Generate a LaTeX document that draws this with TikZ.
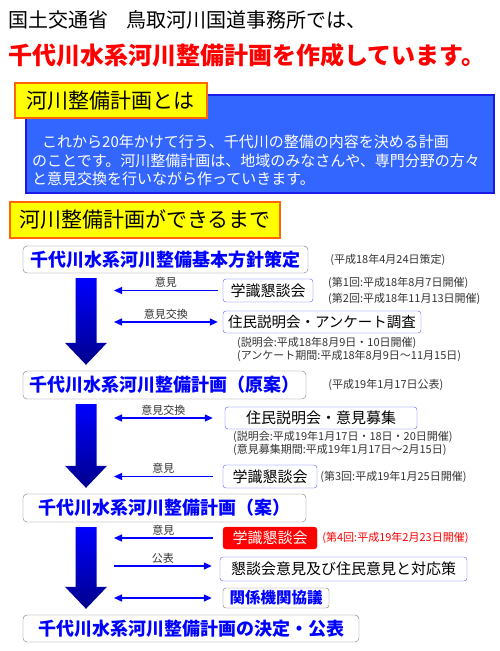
\documentclass[tikz,border=0pt]{standalone}
\usepackage{fontspec}
\usetikzlibrary{positioning,calc,arrows.meta}
\newfontfamily\jp{Noto Sans CJK JP}
\definecolor{flowblue}{HTML}{0000FF}
\definecolor{navy}{HTML}{00008C}
\definecolor{boxblue}{HTML}{3366FF}
\definecolor{boxedge}{HTML}{1A1AE6}
\definecolor{headfill}{HTML}{FFFF00}
\definecolor{headedge}{HTML}{FF6600}
\definecolor{sideedge}{HTML}{5555FF}
\definecolor{frame}{HTML}{777777}
\definecolor{note}{HTML}{333333}
\definecolor{alert}{HTML}{FF0000}

\tikzset{
  mainbox/.style={draw=frame, rounded corners=4pt, fill=white, text=flowblue, inner sep=0pt,
    font=\jp\bfseries\fontsize{18}{18}\selectfont},
  sidebox/.style={draw=sideedge, rounded corners=3pt, fill=white, inner sep=0pt,
    font=\jp\fontsize{15}{15}\selectfont},
  headbox/.style={draw=headedge, line width=2pt, fill=headfill, inner sep=0pt,
    font=\jp\fontsize{21}{21}\selectfont},
  notetext/.style={anchor=west, inner sep=0pt, text=note, font=\jp\fontsize{11}{11}\selectfont},
  sidearrow/.style={flowblue, line width=1.3pt, -{Triangle[length=8pt,width=7pt]}},
  bothways/.style={flowblue, line width=1.3pt, {Triangle[length=8pt,width=7pt]}-{Triangle[length=8pt,width=7pt]}},
  arrowlabel/.style={midway, above, inner sep=2pt, text=note, font=\jp\fontsize{11}{11}\selectfont},
}

% thick shaded arrow between two main boxes
\newcommand\flowarrow[2]{%
  \coordinate (fa) at (#1.south -| ax);
  \coordinate (fb) at (#2.north -| ax);
  \shade[top color=flowblue, bottom color=navy]
    ($(fa)+(-10.5,5)$) -- ($(fa)+(10.5,5)$) -- ($(fb)+(10.5,-28)$) -- ($(fb)+(21,-28)$)
    -- ($(fb)+(0,-6)$) -- ($(fb)+(-21,-28)$) -- ($(fb)+(-10.5,-28)$) -- cycle;}

\begin{document}
\begin{tikzpicture}[x=1pt,y=-1pt]
  \useasboundingbox (0,0) rectangle (500,651);

  % title
  \node[anchor=west, inner sep=0pt, font=\jp\fontsize{20}{20}\selectfont] (title) at (8,20)
    {国土交通省\hspace{18pt}鳥取河川国道事務所では、};
  \node[anchor=west, inner sep=0pt, text=alert, font=\jp\bfseries\fontsize{24}{24}\selectfont] (subtitle) at (8,55)
    {千代川水系河川整備計画を作成しています。};

  % what the plan is
  \fill[boxblue] (26,95) rectangle (494,193);
  \draw[boxedge, line width=1.5pt] (26,95) rectangle (494,193);
  \node[anchor=west, inner sep=0pt, text=white, align=left,
    font=\jp\fontsize{15}{18.5}\selectfont] (intro) at (32,160.5)
    {\hspace{10pt}これから20年かけて行う、千代川の整備の内容を決める計画\\
     のことです。河川整備計画は、地域のみなさんや、専門分野の方々\\
     と意見交換を行いながら作っていきます。};
  \node[headbox, minimum width=192pt, minimum height=35pt] (head1) at (111,100.5) {河川整備計画とは};

  % how the plan is made
  \node[headbox, minimum width=270pt, minimum height=36pt] (head2) at (145,220) {河川整備計画ができるまで};

  \node[mainbox, minimum width=285pt, minimum height=27pt] (m1) at (165.5,259.5) {千代川水系河川整備基本方針策定};
  \node[mainbox, minimum width=283pt, minimum height=28pt] (m2) at (164.5,385) {千代川水系河川整備計画（原案）};
  \node[mainbox, minimum width=283pt, minimum height=28pt] (m3) at (164.5,508) {千代川水系河川整備計画（案）};
  \node[mainbox, minimum width=336pt, minimum height=27pt] (m4) at (191,628.5) {千代川水系河川整備計画の決定・公表};

  \node[notetext, right=22pt of m1] (n0) {(平成18年4月24日策定)};
  \node[notetext, right=22pt of m2] (n5) {(平成19年1月17日公表)};

  \coordinate (ax) at (86,0);
  \coordinate (lx) at (114,0);
  \flowarrow{m1}{m2}
  \flowarrow{m2}{m3}
  \flowarrow{m3}{m4}

  % first stage
  \node[sidebox, minimum width=90pt, minimum height=23pt] (s1) at (268,290.5) {学識懇談会};
  \node[notetext] (n1) at (328,283) {(第1回:平成18年8月7日開催)};
  \node[notetext] (n2) at (328,299) {(第2回:平成18年11月13日開催)};
  \node[sidebox, minimum width=198pt, minimum height=22pt, font=\jp\fontsize{14.5}{14.5}\selectfont] (s2) at (322,322)
    {住民説明会・アンケート調査};
  \node[notetext] (n3) at (237,343) {(説明会:平成18年8月9日・10日開催)};
  \node[notetext] (n4) at (237,356) {(アンケート期間:平成18年8月9日～11月15日)};
  \draw[sidearrow] ([xshift=-5pt]s1.west) -- (s1.west -| lx) node[arrowlabel] {意見};
  \draw[bothways] (s2.west -| lx) -- ([xshift=-5pt]s2.west) node[arrowlabel] {意見交換};

  % second stage
  \node[sidebox, minimum width=192pt, minimum height=22pt] (s3) at (321,418) {住民説明会・意見募集};
  \node[notetext] (n6) at (233,437) {(説明会:平成19年1月17日・18日・20日開催)};
  \node[notetext] (n7) at (233,450) {(意見募集期間:平成19年1月17日～2月15日)};
  \node[sidebox, minimum width=94pt, minimum height=23pt] (s4) at (270,476.5) {学識懇談会};
  \node[notetext, right=3pt of s4] (n8) {(第3回:平成19年1月25日開催)};
  \draw[bothways] (s3.west -| lx) -- ([xshift=-12pt]s3.west) node[arrowlabel] {意見交換};
  \draw[sidearrow] ([xshift=-10pt]s4.west) -- (s4.west -| lx) node[arrowlabel] {意見};

  % third stage
  \node[sidebox, draw=alert, fill=alert, text=white, minimum width=94pt, minimum height=22pt] (s5) at (270,538) {学識懇談会};
  \node[notetext, text=alert, right=5pt of s5] (n9) {(第4回:平成19年2月23日開催)};
  \node[sidebox, minimum width=247pt, minimum height=24pt] (s6) at (343.5,569) {懇談会意見及び住民意見と対応策};
  \node[sidebox, draw=frame, text=flowblue, font=\jp\bfseries\fontsize{15.5}{15.5}\selectfont,
    minimum width=106pt, minimum height=20pt] (s7) at (276,598) {関係機関協議};
  \draw[sidearrow] ([xshift=-10pt]s5.west) -- (s5.west -| lx) node[arrowlabel] {意見};
  \draw[sidearrow] ($(s6.west -| lx)+(0,-3)$) -- ($(s6.west)+(-8,-3)$) node[arrowlabel] {公表};
  \draw[bothways] (s7.west -| lx) -- ([xshift=-11pt]s7.west);
\end{tikzpicture}
\end{document}
